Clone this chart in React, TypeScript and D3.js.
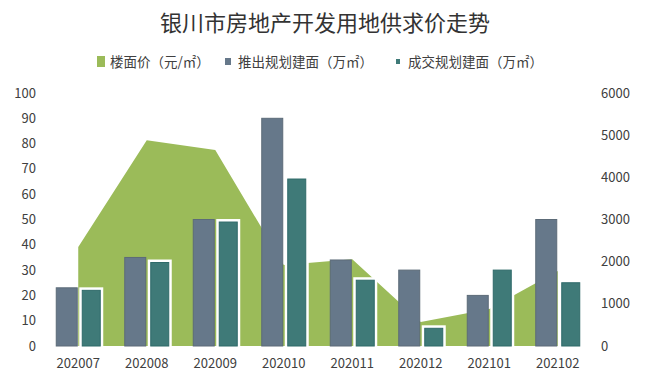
import React from 'react';
import * as d3 from 'd3';

const categories = ['202007', '202008', '202009', '202010', '202011', '202012', '202101', '202102'];
const floorPrice = [2350, 4880, 4650, 1920, 2060, 570, 880, 1780];
const supplied = [23, 35, 50, 90, 34, 30, 20, 50];
const sold = [22, 33, 49, 66, 26, 7, 30, 25];
const leftTicks = [0, 10, 20, 30, 40, 50, 60, 70, 80, 90, 100];
const rightTicks = [0, 1000, 2000, 3000, 4000, 5000, 6000];

const GREEN = '#9bbb59';
const GRAY = '#66788a';
const TEAL = '#3f7a78';
const FONT = '"Noto Sans CJK SC", "Noto Sans", sans-serif';

export default function App() {
  const width = 651, height = 388;

  const x = d3.scaleBand().domain(categories).range([44, 592]);
  const yL = d3.scaleLinear().domain([0, 100]).range([346, 93]);
  const yR = d3.scaleLinear().domain([0, 6000]).range([346, 93]);
  const cx = (c) => x(c) + x.bandwidth() / 2;

  const area = d3.area()
    .x((d, i) => cx(categories[i]))
    .y0(yR(0))
    .y1(d => yR(d));

  return (
    <svg width={width} height={height} style={{ position: 'absolute', left: 0, top: 0, background: '#fff' }}
      fontFamily={FONT}>
      <text x={325} y={31} textAnchor="middle" fontSize={22} fill="#333">银川市房地产开发用地供求价走势</text>

      {/* legend */}
      <g fontSize={13.5} fill="#404040">
        <rect x={97} y={56} width={8} height={11} fill={GREEN} />
        <text x={110} y={67}>楼面价（元/㎡）</text>
        <rect x={225} y={58} width={6} height={7} fill={GRAY} />
        <text x={238} y={67}>推出规划建面（万㎡）</text>
        <rect x={396} y={59} width={4} height={5} fill={TEAL} />
        <text x={408} y={67}>成交规划建面（万㎡）</text>
      </g>

      <path d={area(floorPrice)} fill={GREEN} />

      {categories.map((c, i) => {
        const m = cx(c);
        return (
          <g key={c}>
            <rect x={m - 22} y={yL(supplied[i])} width={21} height={yL(0) - yL(supplied[i])}
              fill={GRAY} stroke="#5c6b78" strokeWidth={1} />
            <rect x={m + 1} y={yL(sold[i]) - 3} width={24} height={yL(0) - yL(sold[i]) + 3} fill="#fff" />
            <rect x={m + 4} y={yL(sold[i])} width={18} height={yL(0) - yL(sold[i])}
              fill={TEAL} stroke="#2f6a69" strokeWidth={1} />
          </g>
        );
      })}

      <g fontSize={13} fill="#404040">
        {leftTicks.map(t => (
          <text key={t} x={36} y={yL(t)} dy="0.35em" textAnchor="end">{t}</text>
        ))}
        {rightTicks.map(t => (
          <text key={t} x={601} y={yR(t)} dy="0.35em" textAnchor="start">{t}</text>
        ))}
        {categories.map(c => (
          <text key={c} x={cx(c)} y={368} textAnchor="middle">{c}</text>
        ))}
      </g>
    </svg>
  );
}
